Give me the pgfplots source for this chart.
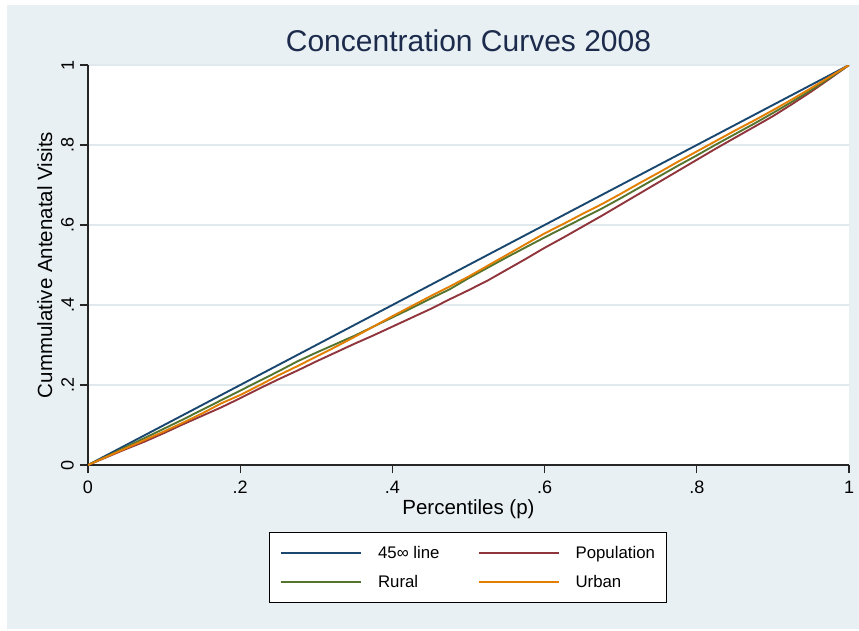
\documentclass[border=0pt]{standalone}
\usepackage{pgfplots}
\usepackage{pgfplotstable}
\pgfplotsset{compat=1.18}
\usepackage{fontspec}
\setmainfont{Liberation Sans}

\definecolor{stnavy}{RGB}{26,71,111}
\definecolor{stmaroon}{RGB}{144,53,59}
\definecolor{stgreen}{RGB}{85,117,47}
\definecolor{storange}{RGB}{227,126,0}
\definecolor{bgblue}{RGB}{232,240,243}
\definecolor{gridblue}{RGB}{224,233,238}
\definecolor{titlenavy}{RGB}{28,42,76}

% p, population, rural, urban
\pgfplotstableread{
p     pop   rural urban
0     0     0     0
0.025 0.020 0.022 0.021
0.05  0.040 0.045 0.042
0.075 0.059 0.068 0.063
0.10  0.080 0.091 0.084
0.125 0.102 0.114 0.106
0.15  0.123 0.138 0.129
0.175 0.144 0.162 0.154
0.20  0.167 0.186 0.175
0.225 0.191 0.210 0.199
0.25  0.214 0.234 0.224
0.275 0.236 0.259 0.247
0.30  0.259 0.281 0.271
0.325 0.281 0.302 0.295
0.35  0.303 0.323 0.320
0.375 0.324 0.346 0.346
0.40  0.346 0.369 0.372
0.425 0.368 0.392 0.397
0.45  0.390 0.416 0.422
0.475 0.414 0.439 0.446
0.50  0.437 0.467 0.471
0.525 0.461 0.493 0.498
0.55  0.488 0.519 0.525
0.575 0.515 0.544 0.552
0.60  0.543 0.569 0.579
0.625 0.569 0.593 0.603
0.65  0.596 0.617 0.628
0.675 0.623 0.641 0.652
0.70  0.651 0.667 0.678
0.725 0.679 0.694 0.705
0.75  0.707 0.721 0.731
0.775 0.735 0.748 0.758
0.80  0.763 0.774 0.784
0.825 0.791 0.801 0.810
0.85  0.818 0.827 0.836
0.875 0.845 0.853 0.861
0.90  0.872 0.880 0.887
0.925 0.902 0.908 0.914
0.95  0.933 0.937 0.942
0.975 0.966 0.968 0.971
1     1     1     1
}\curves

\begin{document}
\begin{tikzpicture}
\path[use as bounding box] (0,0) rectangle (859pt,-630pt);
\fill[white] (0,0) rectangle (859pt,-630pt);
\fill[bgblue] (7pt,-5pt) rectangle (859pt,-629pt);
\begin{axis}[
  at={(88pt,-465pt)}, anchor=south west,
  width=761pt, height=400pt, scale only axis,
  xmin=0, xmax=1, ymin=0, ymax=1,
  axis background/.style={fill=white},
  axis x line*=bottom, axis y line*=left,
  axis line style={line width=1.3pt, black!85, -},
  tick align=outside, major tick length=8pt,
  tick style={line width=1.3pt, black!85},
  xtick={0,0.2,0.4,0.6,0.8,1}, xticklabels={0,.2,.4,.6,.8,1},
  ytick={0,0.2,0.4,0.6,0.8,1}, yticklabels={0,.2,.4,.6,.8,1},
  ymajorgrids, grid style={gridblue, line width=1.3pt},
  tick label style={font=\fontsize{18}{20}\selectfont},
  xticklabel style={anchor=north, inner sep=0pt},
  xticklabel shift=8pt,
  yticklabel style={rotate=90, anchor=south, inner sep=0pt},
  yticklabel shift=6pt,
  /pgf/number format/assume math mode=true,
  title={Concentration Curves 2008},
  title style={at={(axis description cs:0.5,1.02)}, anchor=base,
    font=\fontsize{30}{36}\selectfont, text=titlenavy},
  xlabel={Percentiles (p)},
  xlabel style={at={(axis description cs:0.5,-0.1225)}, anchor=base,
    font=\fontsize{20.5}{24}\selectfont},
  ylabel={Cummulative Antenatal Visits},
  ylabel style={at={(axis description cs:-0.0473,0.5)}, anchor=base, rotate=0,
    font=\fontsize{20.5}{24}\selectfont},
  legend columns=2, legend cell align=left,
  legend image code/.code={\draw[#1, line width=2pt] (0pt,0pt) -- (80pt,0pt);},
  legend style={at={(axis description cs:0.4987,-0.2565)}, anchor=center,
    draw=black, line width=0.9pt, fill=white,
    font=\fontsize{16.8}{18}\selectfont,
    inner xsep=11pt, inner ysep=13.5pt, row sep=16pt,
    nodes={inner sep=0pt, text depth=0.15em},
    /tikz/every odd column/.append style={column sep=16pt},
    /tikz/every even column/.append style={column sep=38pt}},
]
\addplot[stnavy, line width=1.9pt] coordinates {(0,0) (1,1)};
\addlegendentry{45∞ line}
\addplot[stmaroon, line width=1.9pt] table[x=p, y=pop] {\curves};
\addlegendentry{Population}
\addplot[stgreen, line width=1.9pt] table[x=p, y=rural] {\curves};
\addlegendentry{Rural}
\addplot[storange, line width=1.9pt] table[x=p, y=urban] {\curves};
\addlegendentry{Urban}
\end{axis}
\end{tikzpicture}
\end{document}
